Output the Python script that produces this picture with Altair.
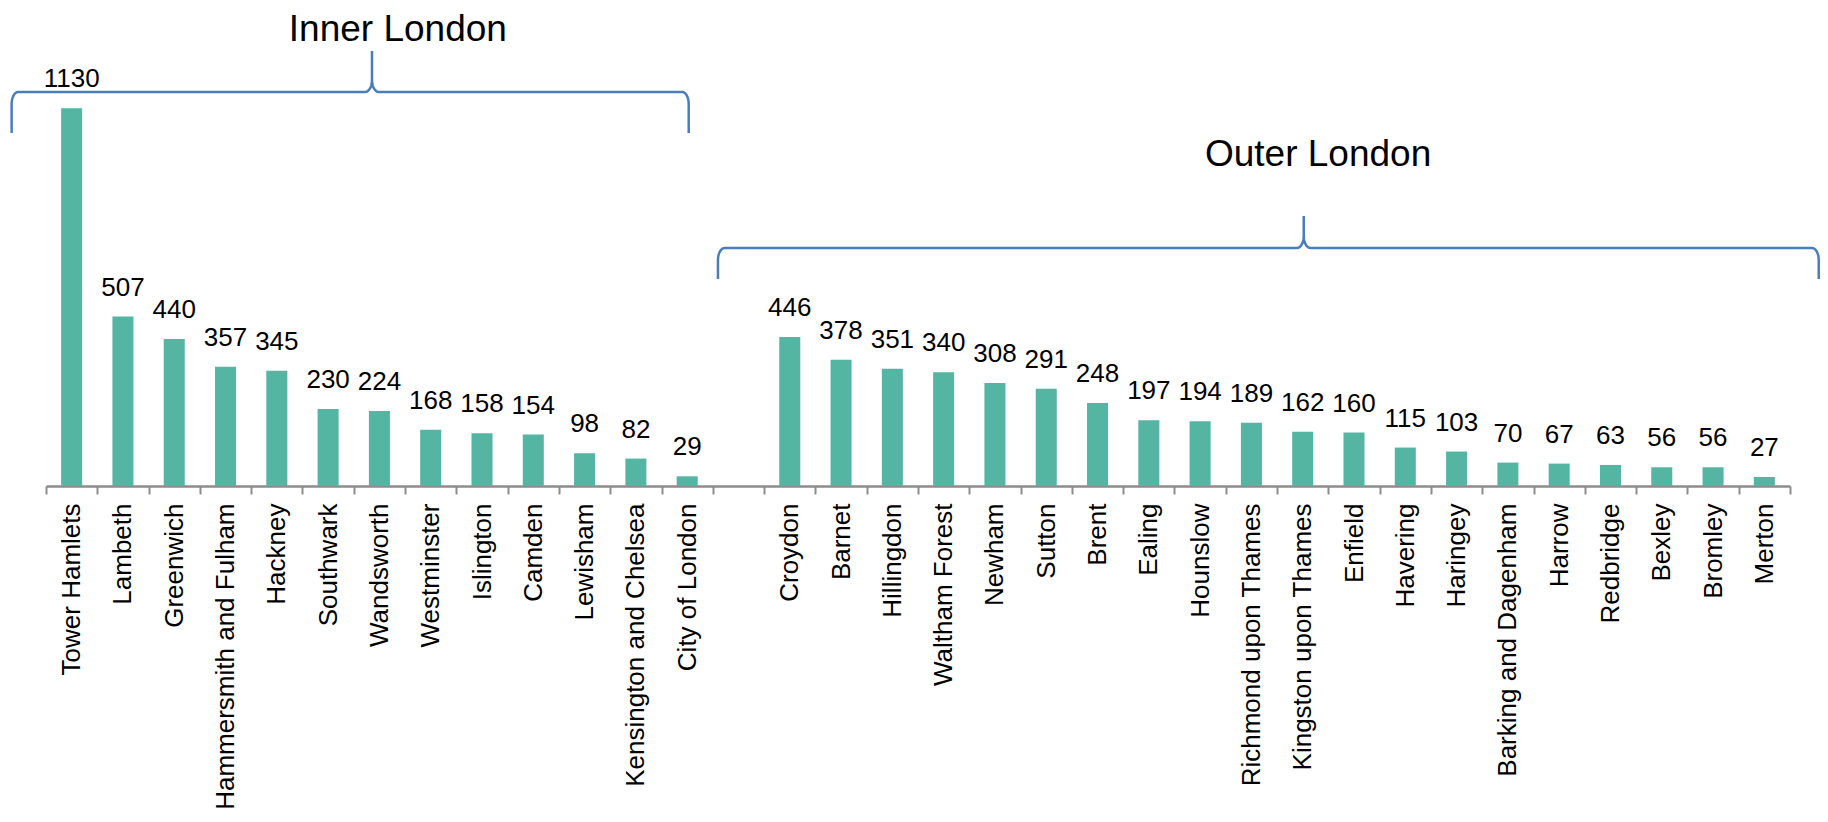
import math
import altair as alt
import pandas as pd

# ---------------- data ----------------
inner_names = ["Tower Hamlets", "Lambeth", "Greenwich", "Hammersmith and Fulham", "Hackney",
               "Southwark", "Wandsworth", "Westminster", "Islington", "Camden", "Lewisham",
               "Kensington and Chelsea", "City of London"]
inner_values = [1130, 507, 440, 357, 345, 230, 224, 168, 158, 154, 98, 82, 29]

outer_names = ["Croydon", "Barnet", "Hillingdon", "Waltham Forest", "Newham", "Sutton", "Brent",
               "Ealing", "Hounslow", "Richmond upon Thames", "Kingston upon Thames", "Enfield",
               "Havering", "Haringey", "Barking and Dagenham", "Harrow", "Redbridge", "Bexley",
               "Bromley", "Merton"]
outer_values = [446, 378, 351, 340, 308, 291, 248, 197, 194, 189, 162, 160, 115, 103, 70, 67, 63,
                56, 56, 27]

group_titles = ["Inner London", "Outer London"]
GAP = " "  # empty slot separating the two groups

categories = inner_names + [GAP] + outer_names
bars_df = pd.DataFrame({"borough": inner_names + outer_names,
                        "count": inner_values + outer_values})

# ---------------- annotation geometry (slot units on x, value units on y) ----------------
N_SLOTS = len(categories)
Y_MAX = 1430
brace_specs = [
    dict(x0=-0.67, x1=12.53, xt=6.355, y=1179, ytip=1301, yend=1056, tx=6.86, ty=1331),
    dict(x0=13.10, x1=34.56, xt=24.52, y=712, ytip=808, yend=619, tx=24.80, ty=957),
]
RX = 0.13   # horizontal radius of brace curves (slots)
RY = 36     # vertical radius of brace curves (value units)


def brace_path(s):
    pts = [(s["x0"], s["yend"]), (s["x0"], s["y"] - RY)]
    steps = 10
    for k in range(steps + 1):
        t = (math.pi / 2) * k / steps
        pts.append((s["x0"] + RX * (1 - math.cos(t)), s["y"] - RY * (1 - math.sin(t))))
    for k in range(steps + 1):
        p = (math.pi / 2) * k / steps
        pts.append((s["xt"] - RX + RX * math.sin(p), s["y"] + RY - RY * math.cos(p)))
    pts.append((s["xt"], s["ytip"]))
    for k in range(steps, -1, -1):
        p = (math.pi / 2) * k / steps
        pts.append((s["xt"] + RX - RX * math.sin(p), s["y"] + RY - RY * math.cos(p)))
    for k in range(steps, -1, -1):
        t = (math.pi / 2) * k / steps
        pts.append((s["x1"] - RX * (1 - math.cos(t)), s["y"] - RY * (1 - math.sin(t))))
    pts.append((s["x1"], s["yend"]))
    return pts


rows = []
for name, spec in zip(group_titles, brace_specs):
    for i, (bx, by) in enumerate(brace_path(spec)):
        rows.append({"group": name, "i": i, "bx": bx, "by": by})
brace_df = pd.DataFrame(rows)
title_df = pd.DataFrame({"group": group_titles,
                         "bx": [s["tx"] for s in brace_specs],
                         "by": [s["ty"] for s in brace_specs]})

FONT = "Liberation Sans, Arial, Helvetica, sans-serif"
BAR_COLOR = "#55B5A3"
BRACE_COLOR = "#4A7EBB"

x_band = alt.X("borough:N", sort=categories,
               scale=alt.Scale(domain=categories, paddingInner=0, paddingOuter=0),
               axis=alt.Axis(title=None, labelAngle=270, labelAlign="right", labelBaseline="middle",
                             labelFont=FONT, labelFontSize=26, labelColor="#000000",
                             labelPadding=9, labelLimit=0, tickBand="extent",
                             domainColor="#8C8C8C", domainWidth=2.5, tickColor="#8C8C8C",
                             tickWidth=2, tickSize=8, grid=False, labelOverlap=False))
y_val = alt.Y("count:Q", scale=alt.Scale(domain=[0, Y_MAX], nice=False, zero=True), axis=None)

bars = alt.Chart(bars_df).mark_bar(color=BAR_COLOR, width=alt.RelativeBandSize(0.41)).encode(
    x=x_band, y=y_val)

values_txt = alt.Chart(bars_df).mark_text(
    font=FONT, fontSize=26, color="#000000", baseline="alphabetic", align="center", dy=-21
).encode(x=x_band, y=y_val, text="count:Q")

x_q = alt.X("bx:Q", scale=alt.Scale(domain=[0, N_SLOTS], nice=False, zero=False), axis=None)
y_q = alt.Y("by:Q", scale=alt.Scale(domain=[0, Y_MAX], nice=False, zero=True), axis=None)

braces = alt.Chart(brace_df).mark_line(color=BRACE_COLOR, strokeWidth=2.5, interpolate="linear").encode(
    x=x_q, y=y_q, detail="group:N", order="i:Q")

titles = alt.Chart(title_df).mark_text(
    font=FONT, fontSize=37, color="#000000", baseline="alphabetic", align="center"
).encode(x=x_q, y=y_q, text="group:N")

left = alt.layer(bars, values_txt)
right = alt.layer(braces, titles)

chart = alt.layer(left, right).resolve_scale(x="independent").properties(
    width=1744, height=478,
    autosize=alt.AutoSizeParams(type="none"),
    padding={"left": 38, "top": 0, "right": 30, "bottom": 328},
    background="white",
).configure_view(stroke=None)

chart.save("out.html", embed_options={"renderer": "svg", "actions": False})
